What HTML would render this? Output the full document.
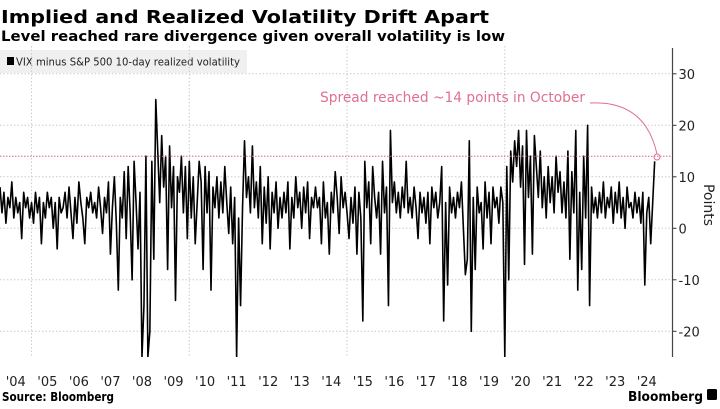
<!DOCTYPE html>
<html><head><meta charset="utf-8">
<style>
body{margin:0;background:#fff;width:720px;height:405px;overflow:hidden;font-family:"DejaVu Sans",sans-serif}
</style></head><body>
<svg width="720" height="405" viewBox="0 0 720 405" xmlns="http://www.w3.org/2000/svg" font-family="DejaVu Sans, Liberation Sans, sans-serif">
<text x="1" y="23" font-size="18" font-weight="bold" fill="#000" textLength="488" lengthAdjust="spacingAndGlyphs">Implied and Realized Volatility Drift Apart</text>
<text x="1" y="41" font-size="14" font-weight="bold" fill="#000" textLength="504" lengthAdjust="spacingAndGlyphs">Level reached rare divergence given overall volatility is low</text>
<g>
<rect x="0" y="50" width="247" height="23" fill="#f0f0f0"/>
<rect x="7" y="57" width="7" height="8" fill="#000"/>
<text x="16" y="65.5" font-size="11" fill="#222" textLength="224" lengthAdjust="spacingAndGlyphs">VIX minus S&amp;P 500 10-day realized volatility</text>
</g>
<g id="grid"></g>
<g id="yaxis"></g>
<g id="xaxis"></g>
<defs><clipPath id="pc"><rect x="0" y="46" width="672" height="311"/></clipPath></defs>
<path id="series" clip-path="url(#pc)" fill="none" stroke="#000" stroke-width="1.6" stroke-linejoin="round"/>
<line id="refline" x1="0" x2="672" stroke="#e06080" stroke-width="1" stroke-dasharray="1.5,1.5"/>
<text x="320" y="102" font-size="14" fill="#e07090" textLength="265" lengthAdjust="spacingAndGlyphs">Spread reached ~14 points in October</text>
<path d="M590,103 Q645,100 657,154" fill="none" stroke="#e07090" stroke-width="1"/>
<circle cx="657" cy="157" r="3" fill="none" stroke="#e07090" stroke-width="1"/>
<text transform="translate(704,205) rotate(90)" text-anchor="middle" font-size="14" fill="#222">Points</text>
<text x="2" y="401" font-size="12" font-weight="bold" fill="#000" textLength="112" lengthAdjust="spacingAndGlyphs">Source: Bloomberg</text>
<text x="628" y="401" font-size="13.5" font-weight="bold" fill="#000" textLength="75" lengthAdjust="spacingAndGlyphs">Bloomberg</text>
<rect x="707" y="389" width="10" height="11" rx="1.5" fill="#000"/>
</svg>
<script>
const startYear = 2004;
const pointsPerYear = 16;
const yTicks = [30, 20, 10, 0, -10, -20];
const xTickLabels = ["'04","'05","'06","'07","'08","'09","'10","'11","'12","'13","'14","'15","'16","'17","'18","'19","'20","'21","'22","'23","'24"];
const refValue = 14;
const spread = [
8,3,7,1,6,4,9,2,6,3,5,-2,7,4,6,2,
5,1,7,3,6,-3,5,2,7,4,6,0,5,-4,6,3,
4,7,2,8,3,-2,6,1,9,5,2,-3,6,4,7,3,
5,2,8,4,-1,6,3,9,-5,4,10,1,-12,6,2,11,
-2,12,3,-10,13,5,-4,7,-25,-15,14,-25,-20,13,-6,25,
15,5,18,8,14,-8,16,4,12,-14,10,7,14,3,12,-2,
13,2,10,-3,5,13,9,-8,12,3,11,-12,8,4,10,2,
9,3,12,5,-1,8,-3,6,-25,2,-15,4,17,6,10,3,
16,4,9,2,12,-3,8,1,10,-4,7,3,9,0,6,2,
7,3,9,-4,6,2,10,4,7,0,8,3,9,-2,6,4,
8,4,6,-3,9,2,5,-5,7,3,11,6,-1,10,4,7,
3,-2,6,1,8,-5,7,2,-18,13,4,9,-3,12,6,2,
7,-5,13,3,8,-15,19,5,9,3,7,2,8,4,13,3,
6,2,8,4,-2,7,3,6,1,7,-3,8,4,7,2,5,
12,-18,5,-11,8,3,6,2,7,4,9,0,-9,-6,17,-20,
6,-8,8,3,5,-4,9,2,7,-3,8,4,6,1,8,5,
-25,12,-10,15,9,17,12,19,8,16,-7,19,6,14,-5,18,
12,6,15,4,10,2,12,5,10,3,14,7,11,3,9,2,
15,-6,11,3,19,-12,7,-8,14,2,20,-15,8,3,6,2,
7,3,9,2,6,4,8,1,7,3,9,2,6,0,8,4,
5,2,7,3,6,1,7,-11,3,6,-3,5,13
];
const NS="http://www.w3.org/2000/svg";
const X0=0, PXY=31.55, Y0=228.3, PXU=5.15, AXX=672.5;
function xs(t){return X0+(t-startYear)*PXY;}
function ys(v){return Y0-v*PXU;}
function mk(tag,attrs,parent){const e=document.createElementNS(NS,tag);for(const k in attrs)e.setAttribute(k,attrs[k]);parent.appendChild(e);return e;}
const grid=document.getElementById('grid'), ya=document.getElementById('yaxis'), xa=document.getElementById('xaxis');
yTicks.forEach(v=>{
  const g=mk('line',{x1:0,x2:AXX,y1:ys(v),y2:ys(v),stroke:'#ccc','stroke-width':1,'stroke-dasharray':'1.5,2'},grid);
  
  
  const tk=mk('line',{x1:AXX,x2:AXX+4,y1:ys(v),y2:ys(v),stroke:'#333'},ya);
  
  
  const t=mk('text',{x:AXX+6,y:ys(v)+5,'font-size':13,fill:'#222'},ya);
  t.textContent=v;
  
  
});
for(let yr=2005;yr<=2020;yr+=5){
  const g=mk('line',{x1:xs(yr),x2:xs(yr),y1:46,y2:357,stroke:'#ccc','stroke-width':1,'stroke-dasharray':'1.5,2'},grid);
  
  
}
const al=mk('line',{x1:AXX,x2:AXX,y1:48,y2:357,stroke:'#444','stroke-width':1.2},ya);


xTickLabels.forEach((lab,i)=>{
  const t=mk('text',{x:xs(startYear+i+0.5),y:386,'font-size':13,fill:'#222','text-anchor':'middle'},xa);
  t.textContent=lab;
  
  
});
let d='';
spread.forEach((v,i)=>{d+=(i?'L':'M')+xs(startYear+i/pointsPerYear).toFixed(2)+','+ys(v).toFixed(2);});
document.getElementById('series').setAttribute('d',d);
const rl=document.getElementById('refline');
rl.setAttribute('y1',ys(refValue));rl.setAttribute('y2',ys(refValue));
</script>
</body></html>
